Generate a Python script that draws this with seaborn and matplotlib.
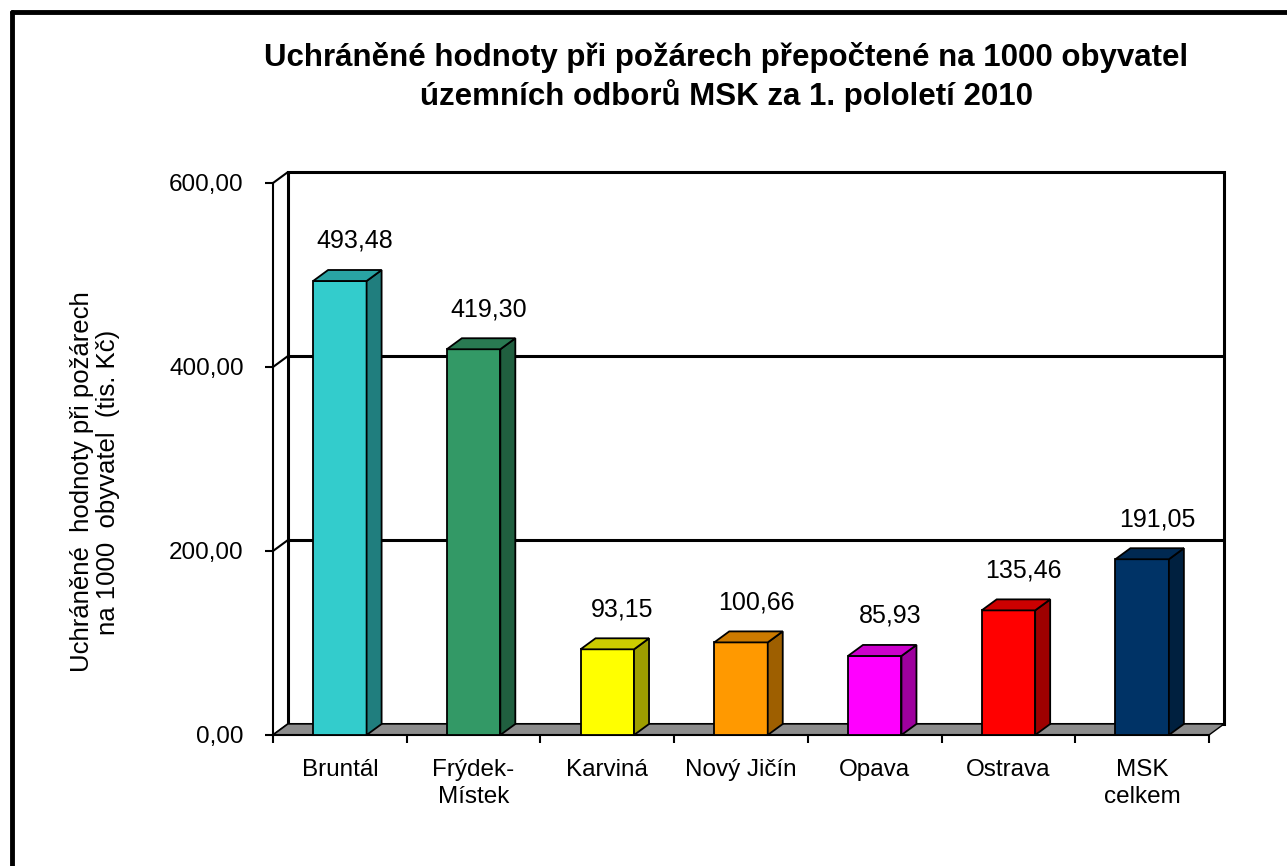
import numpy as np
import pandas as pd
import matplotlib
matplotlib.use("Agg")
import matplotlib.pyplot as plt
import matplotlib.colors as mcolors
from matplotlib.patches import Polygon, Rectangle
from matplotlib.lines import Line2D
import seaborn as sns

# data
categories = ["Bruntál", "Frýdek-\nMístek", "Karviná", "Nový Jičín", "Opava", "Ostrava", "MSK\ncelkem"]
values = [493.48, 419.30, 93.15, 100.66, 85.93, 135.46, 191.05]
colors = ["#33CCCC", "#339966", "#FFFF00", "#FF9900", "#FF00FF", "#FF0000", "#003366"]
y_ticks = [0, 200, 400, 600]

title = "Uchráněné hodnoty při požárech přepočtené na 1000 obyvatel\núzemních odborů MSK za 1. pololetí 2010"
ylabel = "Uchráněné  hodnoty při požárech\nna 1000  obyvatel  (tis. Kč)"


def fmt(v):
    return f"{v:.2f}".replace(".", ",")


def shade(c, f):
    r, g, b = mcolors.to_rgb(c)
    return (r * f, g * f, b * f)


sns.set_style("white")
plt.rcParams['font.family'] = ['Liberation Sans', 'DejaVu Sans']
plt.rcParams.update({"text.color": "black", "axes.labelcolor": "black",
                     "xtick.color": "black", "ytick.color": "black"})

W, H = 1287, 866
fig = plt.figure(figsize=(W / 100, H / 100), dpi=100)
# front plane of the "3D" plot area
ax = fig.add_axes([273 / W, 1 - 735 / H, (1209 - 273) / W, (735 - 183) / H])
ax.patch.set_visible(False)

df = pd.DataFrame({"cat": categories, "val": values})
sns.barplot(data=df, x="cat", y="val", hue="cat", palette=colors, width=0.4,
            legend=False, edgecolor="black", linewidth=1.3, saturation=1, ax=ax, zorder=3)

ax.set_xlim(-0.5, len(categories) - 0.5)
ax.set_ylim(0, 600)

# depth offset in data units (approx 15 px right, 11 px up)
px_x = (1209 - 273) / len(categories)
px_y = (735 - 183) / 600
dx = 15 / px_x
dy = 11 / px_y
x0, x1 = -0.5, len(categories) - 0.5

# back wall + floor
ax.add_patch(Rectangle((x0 + dx, dy), x1 - x0, 600, facecolor="white", edgecolor="black",
                       lw=2.2, zorder=1, clip_on=False))
ax.add_patch(Polygon([(x0, 0), (x1, 0), (x1 + dx, dy), (x0 + dx, dy)], closed=True,
                     facecolor="#8c8c8c", edgecolor="black", lw=1.0, zorder=1.5, clip_on=False))
for v in y_ticks:
    if 0 < v < 600:
        ax.add_line(Line2D([x0 + dx, x1 + dx], [v + dy, v + dy], color="black", lw=2.2,
                           zorder=1.2, clip_on=False))
    ax.add_line(Line2D([x0, x0 + dx], [v, v + dy], color="black", lw=1.5, zorder=1.2, clip_on=False))

# bar sides and tops
for p, c, v in zip(ax.patches[:len(values)], colors, values):
    bx, bw, h = p.get_x(), p.get_width(), p.get_height()
    side = [(bx + bw, 0), (bx + bw + dx, dy), (bx + bw + dx, h + dy), (bx + bw, h)]
    top = [(bx, h), (bx + dx, h + dy), (bx + bw + dx, h + dy), (bx + bw, h)]
    ax.add_patch(Polygon(side, closed=True, facecolor=shade(c, 0.62), edgecolor="black",
                         lw=1.3, zorder=3, clip_on=False))
    ax.add_patch(Polygon(top, closed=True, facecolor=shade(c, 0.8), edgecolor="black",
                         lw=1.3, zorder=3, clip_on=False))
    ax.annotate(fmt(v), (bx + bw / 2 + dx, h + dy), xytext=(0, 21), textcoords="offset points",
                ha="center", va="center", fontsize=18)

# axes styling
for s in ["top", "right"]:
    ax.spines[s].set_visible(False)
for s in ["left", "bottom"]:
    ax.spines[s].set_linewidth(1.5)
    ax.spines[s].set_color("black")
    ax.spines[s].set_zorder(2)

ax.set_yticks(y_ticks)
ax.set_yticklabels([fmt(v) for v in y_ticks], fontsize=17.5)
ax.tick_params(axis="y", direction="out", length=6, width=1.5, pad=15, left=True)
ax.set_xticks(range(len(categories)))
ax.set_xticklabels(categories, fontsize=17.5, linespacing=1.3)
ax.set_xticks(np.arange(len(categories) + 1) - 0.5, minor=True)
ax.tick_params(axis="x", which="major", length=0, pad=17)
ax.tick_params(axis="x", which="minor", direction="out", length=6, width=1.5, bottom=True)
ax.set_xlabel("")
ax.set_ylabel("")

fig.text(95 / W, 1 - 482 / H, ylabel, rotation=90, ha="center", va="center",
         fontsize=18.5, linespacing=1.1, multialignment="center")
fig.text(726 / W, 1 - 77 / H, title, ha="center", va="center", fontsize=22.5,
         fontweight="bold", linespacing=1.2)

# outer chart border (runs off the right/bottom edge)
fig.add_artist(Line2D([12 / W, 12 / W], [0, 1 - 12 / H], color="black", lw=3.5))
fig.add_artist(Line2D([12 / W, 1], [1 - 12 / H, 1 - 12 / H], color="black", lw=3.5))

fig.savefig("out.png", dpi=100)
